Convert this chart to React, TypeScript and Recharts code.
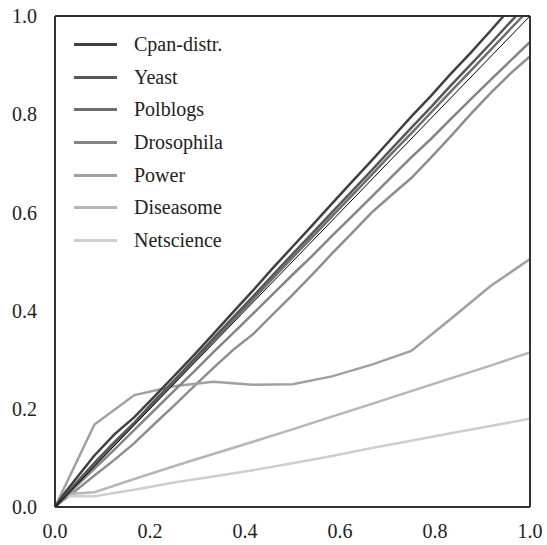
import React from "react";
import { Line, LineChart, ReferenceLine, XAxis, YAxis } from "recharts";

// shared x grid (fraction of nodes)
const xs = [
  0, 0.02, 0.042, 0.083, 0.125, 0.167, 0.208, 0.25, 0.292, 0.333, 0.375, 0.417, 0.458,
  0.5, 0.542, 0.583, 0.625, 0.667, 0.708, 0.75, 0.792, 0.833, 0.875, 0.917, 0.958, 1.0,
];

const cpan = [
  0, 0.028, 0.055, 0.105, 0.148, 0.183, 0.224, 0.266, 0.309, 0.352, 0.397, 0.441, 0.486,
  0.53, 0.574, 0.618, 0.662, 0.706, 0.75, 0.795, 0.838, 0.882, 0.925, 0.97, 1.015, 1.06,
];
const yeast = [
  0, 0.022, 0.046, 0.09, 0.132, 0.172, 0.215, 0.257, 0.3, 0.343, 0.386, 0.429, 0.472,
  0.515, 0.558, 0.6, 0.643, 0.686, 0.729, 0.772, 0.815, 0.858, 0.901, 0.944, 0.987, 1.03,
];
const polblogs = [
  0, 0.02, 0.043, 0.085, 0.127, 0.17, 0.211, 0.254, 0.296, 0.338, 0.38, 0.423, 0.465,
  0.508, 0.55, 0.592, 0.634, 0.677, 0.719, 0.761, 0.804, 0.846, 0.888, 0.931, 0.973, 1.015,
];
const drosophila = [
  0, 0.018, 0.04, 0.078, 0.117, 0.157, 0.196, 0.236, 0.275, 0.315, 0.354, 0.394, 0.433,
  0.473, 0.512, 0.552, 0.592, 0.632, 0.672, 0.712, 0.75, 0.79, 0.83, 0.87, 0.908, 0.947,
];
const unlabeled = [
  0, 0.016, 0.032, 0.064, 0.096, 0.13, 0.168, 0.206, 0.245, 0.283, 0.32, 0.352, 0.392,
  0.432, 0.474, 0.516, 0.558, 0.6, 0.635, 0.67, 0.712, 0.755, 0.8, 0.843, 0.882, 0.918,
];
const power = [
  0, null, null, 0.168, null, 0.228, null, 0.246, null, 0.255, null, 0.249, null,
  0.25, null, 0.266, null, 0.29, null, 0.318, null, 0.383, null, 0.45, null, 0.505,
];
const diseasome = [
  0, 0.026, null, 0.03, null, 0.057, null, 0.083, null, 0.108, null, 0.133, null,
  0.158, null, 0.184, null, 0.21, null, 0.236, null, 0.262, null, 0.288, null, 0.315,
];
const netscience = [
  0, 0.022, null, 0.022, null, 0.035, null, 0.05, null, 0.062, null, 0.075, null,
  0.089, null, 0.104, null, 0.12, null, 0.135, null, 0.15, null, 0.165, null, 0.18,
];

const ticks = [0, 0.2, 0.4, 0.6, 0.8, 1.0];

const rows = xs.map((x, i) => ({
  x,
  cpan: cpan[i],
  yeast: yeast[i],
  polblogs: polblogs[i],
  drosophila: drosophila[i],
  unlabeled: unlabeled[i],
  power: power[i],
  diseasome: diseasome[i],
  netscience: netscience[i],
}));

const series = [
  { key: "cpan", name: "Cpan-distr.", color: "#404040" },
  { key: "yeast", name: "Yeast", color: "#575757" },
  { key: "polblogs", name: "Polblogs", color: "#6e6e6e" },
  { key: "drosophila", name: "Drosophila", color: "#858585" },
  { key: "power", name: "Power", color: "#a0a0a0" },
  { key: "diseasome", name: "Diseasome", color: "#b6b6b6" },
  { key: "netscience", name: "Netscience", color: "#cecece" },
];

const FONT = "'Liberation Serif', serif";
const fmt = (v: number) => v.toFixed(1);
const frame = { stroke: "#333", strokeWidth: 2 };

function LegendBox() {
  return (
    <div
      style={{
        position: "absolute",
        left: 74,
        top: 28,
        fontFamily: FONT,
        fontSize: 20,
        color: "#222",
      }}
    >
      {series.map((s) => (
        <div key={s.key} style={{ display: "flex", alignItems: "center", height: 32.7 }}>
          <span
            style={{ width: 43, height: 3, background: s.color, marginRight: 17, display: "inline-block" }}
          />
          <span>{s.name}</span>
        </div>
      ))}
    </div>
  );
}

export default function App() {
  return (
    <div style={{ position: "relative", width: 547, height: 545, background: "#fff" }}>
      <style>{"body{margin:0}"}</style>
      <LineChart width={547} height={545} data={rows} margin={{ top: 16, right: 17, bottom: 0, left: 0 }}>
        <XAxis
          dataKey="x"
          type="number"
          domain={[0, 1]}
          ticks={ticks}
          tickFormatter={fmt}
          height={38}
          tickLine={false}
          tickSize={15}
          axisLine={frame}
          tick={{ fontFamily: FONT, fontSize: 20, fill: "#222" }}
        />
        <YAxis
          type="number"
          domain={[0, 1]}
          allowDataOverflow
          ticks={ticks}
          tickFormatter={fmt}
          width={55}
          tickLine={false}
          tickSize={16}
          axisLine={frame}
          tick={{ fontFamily: FONT, fontSize: 20, fill: "#222" }}
        />
        <Line
          dataKey="unlabeled"
          stroke="#8e8e8e"
          strokeWidth={2.5}
          dot={false}
          isAnimationActive={false}
        />
        {series
          .slice()
          .reverse()
          .map((s) => (
            <Line
              key={s.key}
              dataKey={s.key}
              name={s.name}
              stroke={s.color}
              strokeWidth={2.5}
              dot={false}
              connectNulls
              isAnimationActive={false}
            />
          ))}
        <ReferenceLine
          segment={[
            { x: 0, y: 0 },
            { x: 1, y: 1 },
          ]}
          stroke="#000"
          strokeWidth={1}
        />
        <ReferenceLine y={1} {...frame} />
        <ReferenceLine x={1} {...frame} />
      </LineChart>
      <LegendBox />
    </div>
  );
}
